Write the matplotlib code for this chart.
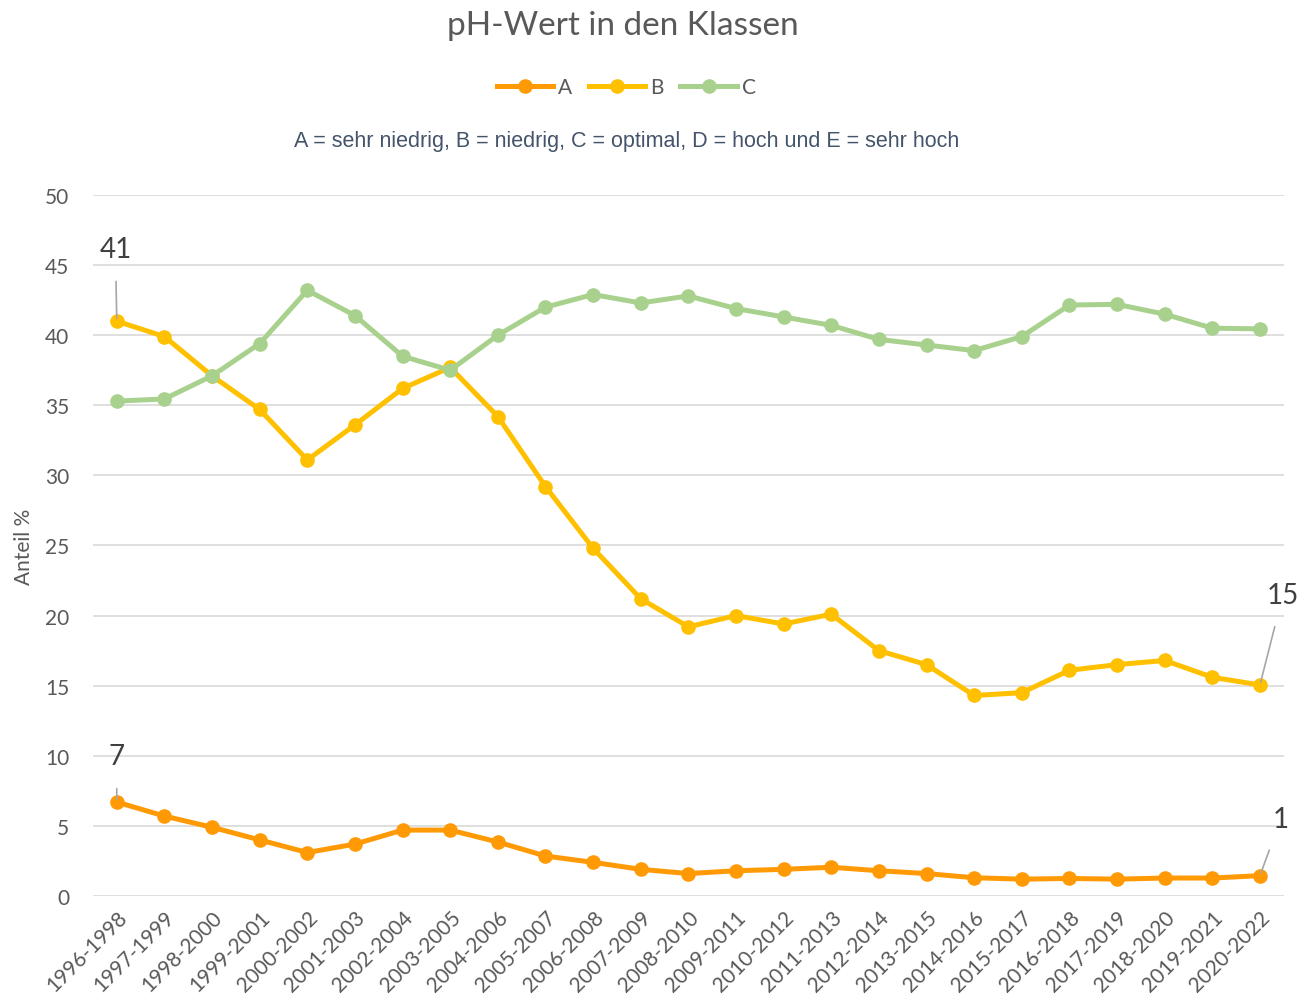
import matplotlib
matplotlib.use('Agg')
import matplotlib.pyplot as plt
from matplotlib.lines import Line2D

# Daten
zeitraeume = ['1996-1998', '1997-1999', '1998-2000', '1999-2001', '2000-2002',
              '2001-2003', '2002-2004', '2003-2005', '2004-2006', '2005-2007',
              '2006-2008', '2007-2009', '2008-2010', '2009-2011', '2010-2012',
              '2011-2013', '2012-2014', '2013-2015', '2014-2016', '2015-2017',
              '2016-2018', '2017-2019', '2018-2020', '2019-2021', '2020-2022']
klasse_a = [6.7, 5.7, 4.9, 4.0, 3.1, 3.7, 4.7, 4.7, 3.85, 2.85,
            2.4, 1.9, 1.6, 1.8, 1.9, 2.05, 1.8, 1.6, 1.3, 1.2,
            1.25, 1.2, 1.28, 1.28, 1.45]
klasse_b = [41.0, 39.9, 37.1, 34.7, 31.1, 33.6, 36.2, 37.7, 34.2, 29.2,
            24.8, 21.2, 19.2, 20.0, 19.4, 20.1, 17.5, 16.5, 14.3, 14.5,
            16.1, 16.5, 16.8, 15.6, 15.05]
klasse_c = [35.3, 35.45, 37.1, 39.4, 43.2, 41.4, 38.5, 37.5, 40.0, 42.0,
            42.9, 42.3, 42.8, 41.9, 41.3, 40.7, 39.7, 39.3, 38.9, 39.9,
            42.15, 42.2, 41.5, 40.5, 40.45]
namen = ['A', 'B', 'C']
farben = ['#FF9A05', '#FFC000', '#A9D18E']

plt.rcParams['font.family'] = ['Lato', 'DejaVu Sans']

fig = plt.figure(figsize=(13.02, 10.03), dpi=100)
ax = fig.add_axes([0.0714, 0.1057, 0.9146, 0.6989])

x = list(range(len(zeitraeume)))
for werte, name, farbe in zip([klasse_a, klasse_b, klasse_c], namen, farben):
    ax.plot(x, werte, color=farbe, lw=3.6, marker='o', ms=9.5, label=name,
            solid_capstyle='round', zorder=3)

ax.set_xlim(-0.5, len(zeitraeume) - 0.5)
ax.set_ylim(0, 50)
ax.set_yticks(range(0, 51, 5))
ax.set_xticks(x)
ax.set_xticklabels(zeitraeume, rotation=45, ha='right', rotation_mode='anchor',
                   fontsize=15, color='#595959')
ax.tick_params(axis='y', labelsize=15, labelcolor='#595959', length=0, pad=17)
ax.tick_params(axis='x', length=0, pad=8)
ax.grid(axis='y', color='#D9D9D9', lw=1.2)
ax.set_axisbelow(True)
for s in ax.spines.values():
    s.set_visible(False)
ax.set_ylabel('Anteil %', fontsize=15, color='#595959', labelpad=8)

# Datenbeschriftungen mit Führungslinien
def beschriftung(wert, xi, dx, dy):
    ax.annotate(f'{wert:.0f}', xy=(xi, wert), xytext=(dx, dy),
                textcoords='offset points', ha='center', va='center',
                fontsize=20, color='#404040',
                arrowprops=dict(arrowstyle='-', color='#A6A6A6', lw=1.2,
                                shrinkA=12, shrinkB=2))

beschriftung(klasse_b[0], x[0], -1, 52)
beschriftung(klasse_b[-1], x[-1], 16.5, 65)
beschriftung(klasse_a[0], x[0], 0, 33)
beschriftung(klasse_a[-1], x[-1], 15, 41)

fig.text(0.478, 0.974, 'pH-Wert in den Klassen', ha='center', va='center',
         fontsize=24, color='#595959')

handles = [Line2D([0], [0], color=f, lw=3.6, marker='o', ms=9.5) for f in farben]
fig.legend(handles, namen, loc='center', bbox_to_anchor=(0.481, 0.912), ncol=3,
           frameon=False, fontsize=15, handlelength=2.7, handletextpad=0.25,
           columnspacing=0.8, labelcolor='#595959')

fig.text(0.481, 0.859, 'A = sehr niedrig, B = niedrig, C = optimal, D = hoch und E = sehr hoch',
         ha='center', va='center', fontsize=15.5, color='#44546A',
         family=['Liberation Sans', 'DejaVu Sans'])

fig.savefig('out.png', dpi=100)
